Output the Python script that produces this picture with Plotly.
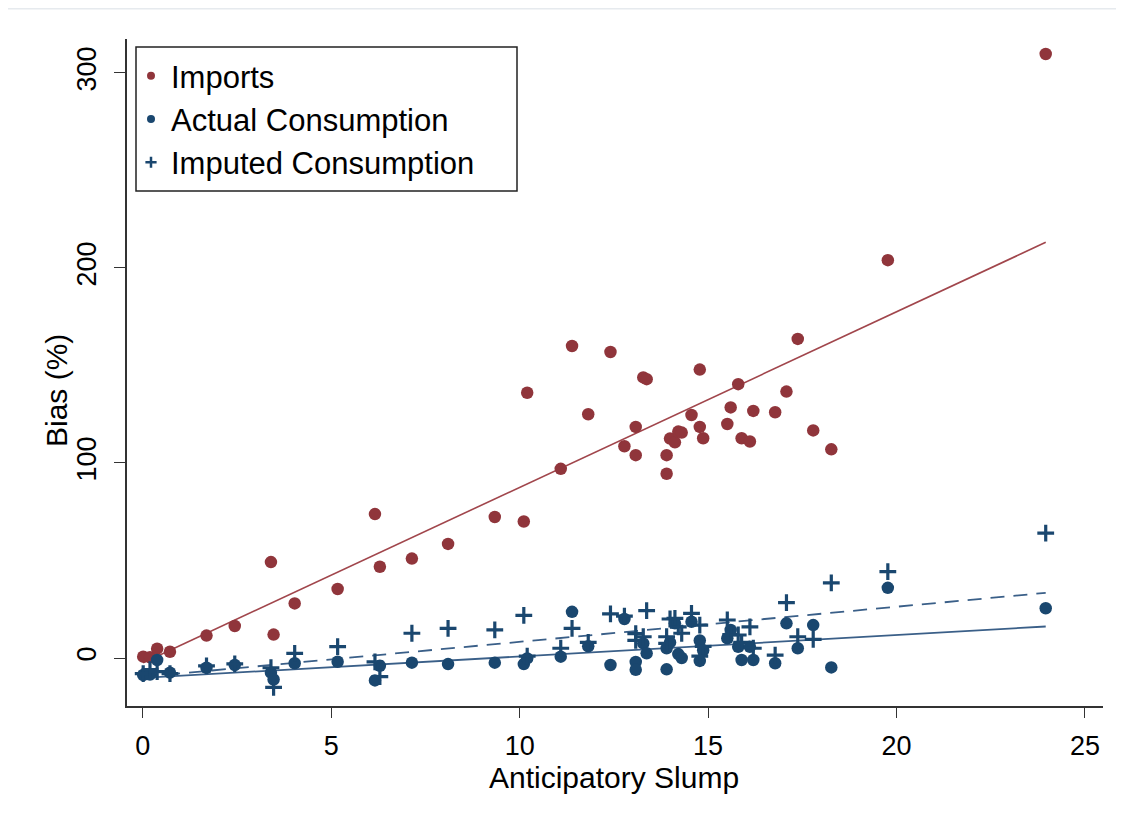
import plotly.graph_objects as go
import numpy as np

# ---------------- data ----------------
slump = [0.01, 0.19, 0.38, 0.72, 1.69, 2.44, 3.40, 3.47, 4.03, 5.17,
         6.29, 7.14, 8.10, 6.16, 9.34, 10.11, 10.20, 11.09, 11.39, 11.82,
         12.41, 12.78, 13.08, 13.08, 13.28, 13.37, 13.90, 13.90, 13.99, 14.12,
         14.21, 14.30, 14.56, 14.78, 14.78, 14.87, 15.51, 15.60, 15.80, 15.89,
         16.11, 16.20, 16.78, 17.08, 17.38, 17.79, 18.27, 19.77, 23.96]

imports = [0.7, 0.4, 4.8, 3.2, 11.5, 16.4, 49.2, 12.0, 28.0, 35.4,
           46.8, 51.0, 58.5, 73.8, 72.3, 70.0, 136.0, 97.0, 160.0, 125.0,
           156.9, 108.6, 118.5, 104.0, 143.9, 143.0, 104.0, 94.5, 112.5, 110.6,
           116.1, 115.6, 124.6, 118.5, 147.9, 112.7, 120.0, 128.5, 140.4, 112.7,
           111.0, 126.7, 126.0, 136.6, 163.6, 116.7, 107.0, 204.0, 309.7]

actual = [-8.7, -8.5, -1.0, -7.5, -5.0, -3.6, -7.5, -11.0, -2.7, -1.9,
          -4.0, -2.4, -3.1, -11.5, -2.4, -3.1, -0.2, 0.7, 23.7, 6.0,
          -3.6, 20.0, -2.0, -6.0, 7.5, 2.4, -5.8, 5.0, 8.0, 17.8,
          2.0, 0.0, 18.6, 9.0, -1.5, 4.0, 10.1, 14.4, 5.8, -1.0,
          5.8, -1.0, -2.7, 17.8, 5.0, 16.9, -4.8, 36.0, 25.5]

imputed = [-8.0, -6.0, -7.0, -8.0, -4.0, -3.0, -5.0, -15.0, 2.4, 5.8,
           -9.5, 12.7, 15.2, -2.0, 14.4, 21.9, 1.0, 5.0, 15.2, 8.0,
           22.6, 21.5, 12.5, 9.0, 10.9, 24.3, 7.5, 10.9, 20.0, 20.3,
           16.0, 12.7, 22.9, 16.9, 1.0, 6.0, 19.5, 12.0, 11.8, 8.0,
           16.0, 5.0, 1.5, 28.4, 10.9, 9.6, 38.5, 44.3, 64.0]

# fitted lines (intercept, slope) as drawn in the reference
fit_names = ["Imports fit", "Actual fit", "Imputed fit"]
fit_intercepts = [-2.5, -10.2, -9.7]
fit_slopes = [9.0, 1.1, 1.8]

x_ticks = [0, 5, 10, 15, 20, 25]
y_ticks = [0, 100, 200, 300]

RED = "#90353b"
NAVY = "#1a476f"
FONT = "Liberation Sans, Arial, sans-serif"

fig = go.Figure()

# fitted lines
xf = np.array([min(slump), max(slump)])
line_styles = [dict(color="#a1464c", width=1.6),
               dict(color="#3a5f88", width=1.8),
               dict(color="#3a5f88", width=1.8, dash="14px,9px")]
for name, a, b, ls in zip(fit_names, fit_intercepts, fit_slopes, line_styles):
    fig.add_trace(go.Scatter(x=xf, y=a + b * xf, mode="lines", line=ls,
                             name=name, showlegend=False, hoverinfo="skip"))

# scatter points
fig.add_trace(go.Scatter(x=slump, y=imports, mode="markers", name="Imports",
                         marker=dict(symbol="circle", size=12.5, color=RED),
                         showlegend=False))
fig.add_trace(go.Scatter(x=slump, y=actual, mode="markers", name="Actual Consumption",
                         marker=dict(symbol="circle", size=12.5, color=NAVY),
                         showlegend=False))
fig.add_trace(go.Scatter(x=slump, y=imputed, mode="markers", name="Imputed Consumption",
                         marker=dict(symbol="cross-thin", size=12,
                                     line=dict(color=NAVY, width=3.2), color=NAVY),
                         showlegend=False))

# legend proxies (smaller markers as in the reference)
fig.add_trace(go.Scatter(x=[None], y=[None], mode="markers", name="Imports",
                         marker=dict(symbol="circle", size=8, color=RED)))
fig.add_trace(go.Scatter(x=[None], y=[None], mode="markers", name="Actual Consumption",
                         marker=dict(symbol="circle", size=8, color=NAVY)))
fig.add_trace(go.Scatter(x=[None], y=[None], mode="markers", name="Imputed Consumption",
                         marker=dict(symbol="cross-thin", size=8,
                                     line=dict(color=NAVY, width=2.5), color=NAVY)))

# page has an 8px body margin: reference pixel r -> figure pixel r - 8
OFF = 8
W, H = 1108, 805
L, T = 127 - OFF, 39 - OFF
R = W - (1103 - OFF)
B = H - (706 - OFF)
pw, ph = W - L - R, H - T - B


def px(xr):
    return (xr - OFF - L) / pw


def py(yr):
    return (H - B - (yr - OFF)) / ph


fig.update_layout(
    width=W, height=H,
    margin=dict(l=L, r=R, t=T, b=B),
    paper_bgcolor="white", plot_bgcolor="white",
    font=dict(family=FONT, color="black", size=27),
    showlegend=True,
    legend=dict(x=px(131), y=py(49), xanchor="left", yanchor="top",
                bgcolor="rgba(0,0,0,0)", borderwidth=0,
                font=dict(size=31, family=FONT), itemwidth=30,
                tracegroupgap=0),
    xaxis=dict(range=[-0.42, 25.48], tickvals=x_ticks, ticktext=[str(v) for v in x_ticks],
               showgrid=False, zeroline=False, showline=True, linecolor="#333", linewidth=1.5,
               ticks="outside", ticklen=10, tickwidth=1.3, tickcolor="#333",
               tickfont=dict(size=27), ticklabelstandoff=5),
    yaxis=dict(range=[-24.6, 317.4], tickvals=y_ticks, ticktext=[str(v) for v in y_ticks],
               showgrid=False, zeroline=False, showline=True, linecolor="#333", linewidth=1.5,
               ticks="outside", ticklen=11, tickwidth=1.3, tickcolor="#333",
               tickangle=-90, tickfont=dict(size=27), ticklabelstandoff=7),
    annotations=[
        dict(text="Anticipatory Slump", xref="paper", yref="paper",
             x=px(614), y=py(777), xanchor="center", yanchor="middle",
             showarrow=False, font=dict(size=30, family=FONT)),
        dict(text="Bias (%)", xref="paper", yref="paper", textangle=-90,
             x=px(56), y=py(391), xanchor="center", yanchor="middle",
             showarrow=False, font=dict(size=30, family=FONT)),
    ],
    shapes=[
        dict(type="line", xref="paper", yref="paper",
             x0=px(5), x1=px(1124), y0=py(8.7), y1=py(8.7),
             line=dict(color="#e6eaee", width=1.5)),
        # legend frame
        dict(type="rect", xref="paper", yref="paper", layer="above",
             x0=px(136), x1=px(517), y0=py(191), y1=py(47),
             line=dict(color="#222", width=1.5), fillcolor="rgba(0,0,0,0)"),
    ],
)

fig.write_html("out.html")
